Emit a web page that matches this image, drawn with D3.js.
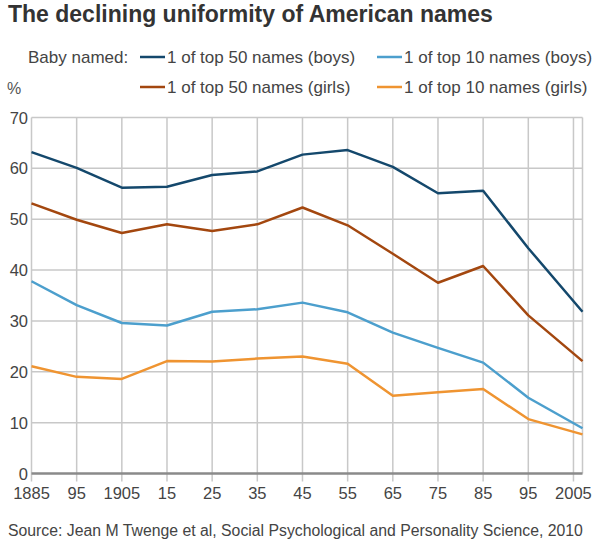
<!DOCTYPE html>
<html>
<head>
<meta charset="utf-8">
<script src="https://cdn.jsdelivr.net/npm/d3@7"></script>
<style>
  body { margin: 0; background: #fff; }
  text { font-family: "Liberation Sans", Arial, sans-serif; }
</style>
</head>
<body>
<script>
// data
var years = [1885, 1895, 1905, 1915, 1925, 1935, 1945, 1955, 1965, 1975, 1985, 1995, 2007];
var boysTop50  = [63.2, 60.1, 56.2, 56.4, 58.7, 59.4, 62.7, 63.6, 60.3, 55.1, 55.6, 44.3, 31.8];
var girlsTop50 = [53.1, 49.9, 47.3, 49.0, 47.7, 49.0, 52.3, 48.8, 43.2, 37.5, 40.8, 31.1, 22.1];
var boysTop10  = [37.8, 33.1, 29.6, 29.1, 31.8, 32.3, 33.6, 31.7, 27.7, 24.7, 21.8, 14.9, 8.9];
var girlsTop10 = [21.1, 19.0, 18.6, 22.1, 22.0, 22.6, 23.0, 21.6, 15.3, 16.0, 16.6, 10.7, 7.7];

var tickYears = [1885, 1895, 1905, 1915, 1925, 1935, 1945, 1955, 1965, 1975, 1985, 1995, 2005];
var tickLabels = ["1885", "95", "1905", "15", "25", "35", "45", "55", "65", "75", "85", "95", "2005"];
var yTicks = [0, 10, 20, 30, 40, 50, 60, 70];

var seriesNames = ["1 of top 50 names (boys)", "1 of top 10 names (boys)",
                   "1 of top 50 names (girls)", "1 of top 10 names (girls)"];
var seriesValues = [boysTop50, boysTop10, girlsTop50, girlsTop10];
var seriesColors = ["#14486c", "#4c9fcd", "#a3470f", "#ef9431"];

var width = 600, height = 543;
var plotLeft = 31.5, plotRight = 582.5, plotTop = 117.5, plotBottom = 473.5;

var svg = d3.select("body")
  .append("svg")
  .attr("width", width)
  .attr("height", height);

var x = d3.scaleLinear().domain([1885, 2007]).range([plotLeft, plotRight]);
var y = d3.scaleLinear().domain([0, 70]).range([plotBottom, plotTop]);

// title
svg.append("text")
  .attr("x", 8)
  .attr("y", 22)
  .style("font-size", "23px")
  .style("font-weight", "bold")
  .style("fill", "#333")
  .text("The declining uniformity of American names");

// legend
svg.append("text")
  .attr("x", 28)
  .attr("y", 63)
  .style("font-size", "17px")
  .style("fill", "#444")
  .text("Baby named:");

var legendPos = [[140, 57], [377, 57], [140, 87], [377, 87]];
seriesNames.forEach(function (name, i) {
  var g = svg.append("g").attr("transform", "translate(" + legendPos[i][0] + "," + legendPos[i][1] + ")");
  g.append("line")
    .attr("x1", 0).attr("x2", 25)
    .attr("y1", 0).attr("y2", 0)
    .style("stroke", seriesColors[i])
    .style("stroke-width", 2.5);
  g.append("text")
    .attr("x", 27)
    .attr("y", 6)
    .style("font-size", "17px")
    .style("fill", "#444")
    .text(name);
});

svg.append("text")
  .attr("x", 7)
  .attr("y", 94)
  .style("font-size", "16px")
  .style("fill", "#555")
  .text("%");

// gridlines
svg.append("g")
  .selectAll("line")
  .data(yTicks.filter(function (d) { return d > 0; }))
  .join("line")
  .attr("x1", plotLeft).attr("x2", plotRight)
  .attr("y1", function (d) { return y(d); })
  .attr("y2", function (d) { return y(d); })
  .style("stroke", "#c8c8c8")
  .style("stroke-width", 1.5);

svg.append("g")
  .selectAll("line")
  .data(tickYears)
  .join("line")
  .attr("x1", function (d) { return x(d); })
  .attr("x2", function (d) { return x(d); })
  .attr("y1", plotTop)
  .attr("y2", plotBottom + 8)
  .style("stroke", "#c8c8c8")
  .style("stroke-width", 1.5);

svg.append("line")
  .attr("x1", plotRight).attr("x2", plotRight)
  .attr("y1", plotTop).attr("y2", plotBottom)
  .style("stroke", "#c8c8c8")
  .style("stroke-width", 1.5);

// y labels
svg.append("g")
  .selectAll("text")
  .data(yTicks)
  .join("text")
  .attr("x", 28)
  .attr("y", function (d) { return y(d) + 6; })
  .attr("text-anchor", "end")
  .style("font-size", "16.5px")
  .style("fill", "#444")
  .text(function (d) { return d; });

// x labels
svg.append("g")
  .selectAll("text")
  .data(tickYears)
  .join("text")
  .attr("x", function (d) { return x(d); })
  .attr("y", 499)
  .attr("text-anchor", "middle")
  .style("font-size", "16.5px")
  .style("fill", "#444")
  .text(function (d, i) { return tickLabels[i]; });

// zero axis
svg.append("line")
  .attr("x1", plotLeft).attr("x2", plotRight)
  .attr("y1", y(0)).attr("y2", y(0))
  .style("stroke", "#8a8a8a")
  .style("stroke-width", 2.5);

// series lines
var line = d3.line()
  .x(function (d, i) { return x(years[i]); })
  .y(function (d) { return y(d); });

svg.append("g")
  .selectAll("path")
  .data(seriesValues)
  .join("path")
  .attr("d", line)
  .style("fill", "none")
  .style("stroke", function (d, i) { return seriesColors[i]; })
  .style("stroke-width", 2.5)
  .style("stroke-linejoin", "round");

// source
svg.append("text")
  .attr("x", 8)
  .attr("y", 536)
  .style("font-size", "15.8px")
  .style("fill", "#444")
  .text("Source: Jean M Twenge et al, Social Psychological and Personality Science, 2010");
</script>
</body>
</html>
